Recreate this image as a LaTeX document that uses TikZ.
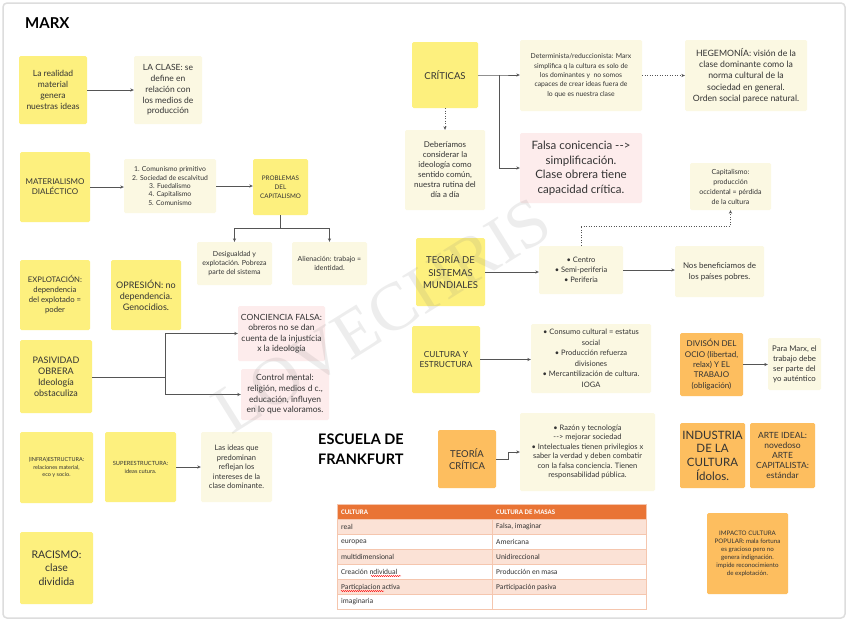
\documentclass[tikz,border=0pt]{standalone}
\usepackage{fontspec}
\setmainfont{Lato}
\newfontfamily\tabfont{Carlito}
\newfontfamily\wmfont{Liberation Serif}
\usetikzlibrary{arrows.meta,decorations.pathmorphing}
\definecolor{yel}{HTML}{FDF07E}
\definecolor{crm}{HTML}{FBF8E2}
\definecolor{pnk}{HTML}{FDECEC}
\definecolor{org}{HTML}{FDBE5F}
\definecolor{hdr}{HTML}{E97435}
\definecolor{pch}{HTML}{FBE2D6}
\definecolor{tbl}{HTML}{F5C6AE}
\definecolor{txt}{HTML}{333333}
\definecolor{lin}{HTML}{555555}
\definecolor{frm}{HTML}{DDDDDD}
\newcommand{\fz}[2]{\fontsize{#1}{#2}\selectfont}
\begin{document}
\begin{tikzpicture}[x=1pt,y=-1pt,
 card/.style={rounded corners=1.5pt, inner sep=0pt, align=center, text=txt},
 yb/.style={card, fill=yel}, cb/.style={card, fill=crm}, pb/.style={card, fill=pnk}, ob/.style={card, fill=org},
 arr/.style={draw=lin, line width=0.7pt, -{Stealth[length=3.5pt,width=3.2pt]}},
 dotarr/.style={arr, dash pattern=on 0.9pt off 1.6pt},
 cell/.style={anchor=west, font=\tabfont\fz{7.5}{9}, text=txt, inner sep=0pt},
 hcell/.style={anchor=west, font=\tabfont\bfseries\fz{7}{9}, text=white, inner sep=0pt},
 title/.style={font=\bfseries, text=black, align=left, inner sep=0pt}]

\useasboundingbox (0,0) rectangle (848,622);
\fill[white] (0,0) rectangle (848,622);
\draw[frm, line width=1.5pt, rounded corners=4pt] (3,3) rectangle (845,618);

% ---------- MARX ----------
\node[title, font=\bfseries\fz{15}{18}, anchor=west] (marx) at (25,23) {MARX};

\node[yb, minimum width=68, minimum height=68, font=\fz{8.5}{11}] (real) at (53,90) {La realidad\\material\\genera\\nuestras ideas};
\node[cb, minimum width=68, minimum height=68, font=\fz{8.5}{10.7}] (clase) at (168,90) {LA CLASE: se\\define en\\relación con\\los medios de\\producción};

\node[yb, minimum width=70, minimum height=70, font=\fz{8}{10}] (mat) at (55,187) {MATERIALISMO\\DIALÉCTICO};
\node[cb, minimum width=92, minimum height=54, font=\fz{6.8}{8.3}] (etapas) at (170,186) {1. Comunismo primitivo\\2. Sociedad de escalvitud\\3. Fuedalismo\\4. Capitalismo\\5. Comunismo};
\node[yb, minimum width=55, minimum height=56, font=\fz{6.3}{9}] (prob) at (280.5,187) {PROBLEMAS\\DEL\\CAPITALISMO};
\node[cb, minimum width=75, minimum height=43, font=\fz{7}{9}] (desig) at (234.5,263.5) {Desigualdad y\\explotación. Pobreza\\parte del sistema};
\node[cb, minimum width=75, minimum height=43, font=\fz{7}{8.7}] (alien) at (329.5,263.5) {Alienación: trabajo =\\identidad.};

\node[yb, minimum width=70, minimum height=70, font=\fz{7.7}{10}] (explot) at (55,295) {EXPLOTACIÓN:\\dependencia\\del explotado =\\poder};
\node[yb, minimum width=70, minimum height=70, font=\fz{9}{11}] (opres) at (146,295) {OPRESIÓN: no\\dependencia.\\Genocidios.};
\node[yb, minimum width=72, minimum height=73, font=\fz{9}{11}] (pasiv) at (56,376.5) {PASIVIDAD\\OBRERA\\Ideología\\obstaculiza};
\node[pb, minimum width=87, minimum height=55, font=\fz{8.5}{10.5}] (concf) at (281.5,333.5) {CONCIENCIA FALSA:\\obreros no se dan\\cuenta de la injustícia\\x la ideología};
\node[pb, minimum width=88, minimum height=51, font=\fz{8.5}{10.7}] (control) at (285,394.5) {Control mental:\\religión, medios d c.,\\educación, influyen\\en lo que valoramos.};

\node[yb, minimum width=73, minimum height=71, font=\fz{5.5}{7.5}] (infra) at (56.5,467.5) {(INFRA)ESTRUCTURA:\\relaciones material,\\eco y socio.};
\node[yb, minimum width=71, minimum height=70, font=\fz{5.7}{8}] (super) at (140.5,467) {SUPERESTRUCTURA:\\ideas cutura.};
\node[cb, minimum width=71, minimum height=70, font=\fz{7.5}{9.5}] (ideas) at (236.5,467) {Las ideas que\\predominan\\reflejan los\\intereses de la\\clase dominante.};
\node[yb, minimum width=73, minimum height=72, font=\fz{10.5}{13.7}] (racismo) at (56.5,568) {RACISMO:\\clase\\dividida};

% ---------- right part ----------
\node[yb, minimum width=66, minimum height=66, font=\fz{9.5}{12}] (crit) at (445,75) {CRÍTICAS};
\node[cb, minimum width=122, minimum height=71, font=\fz{6.8}{9.3}] (determ) at (581,75.5) {Determinista/reduccionista: Marx\\simplifica q la cultura es solo de\\los dominantes y\ \ no somos\\capaces de crear ideas fuera de\\lo que es nuestra clase};
\node[cb, minimum width=122, minimum height=71, font=\fz{8.7}{11.3}] (hegem) at (746,75.5) {HEGEMONÍA: visión de la\\clase dominante como la\\norma cultural de la\\sociedad en general.\\Orden social parece natural.};
\node[cb, minimum width=80, minimum height=80, font=\fz{8}{10}] (deber) at (445,170) {Deberíamos\\considerar la\\ideología como\\sentido común,\\nuestra rutina del\\día a día};
\node[pb, minimum width=122, minimum height=70, font=\fz{11.5}{14.5}] (falsa) at (581,168) {Falsa conicencia -{}->\\simplificación.\\Clase obrera tiene\\capacidad crítica.};
\node[cb, minimum width=81, minimum height=47, font=\fz{7}{10}] (capit) at (730.5,186.5) {Capitalismo:\\producción\\occidental = pérdida\\de la cultura};

\node[yb, minimum width=69, minimum height=68, font=\fz{9.5}{12.5}] (tsm) at (450.5,272) {TEORÍA DE\\SISTEMAS\\MUNDIALES};
\node[cb, minimum width=84, minimum height=48, font=\fz{7.5}{10}] (centro) at (581,270) {• Centro\\• Semi-periferia\\• Periferia};
\node[cb, minimum width=89, minimum height=51, font=\fz{8}{11}] (nos) at (719.5,271.5) {Nos beneficiamos de\\los países pobres.};

\node[yb, minimum width=68, minimum height=67, font=\fz{8.3}{10.7}] (cye) at (446,359.5) {CULTURA Y\\ESTRUCTURA};
\node[cb, minimum width=120, minimum height=69, font=\fz{7.5}{10.5}] (consumo) at (591,358.5) {• Consumo cultural = estatus\\social\\• Producción refuerza\\divisiones\\• Mercantilización de cultura.\\IOGA};
\node[ob, minimum width=63, minimum height=63, font=\fz{8}{10.3}] (ocio) at (711.5,364.5) {DIVISÓN DEL\\OCIO (libertad,\\relax) Y EL\\TRABAJO\\(obligación)};
\node[cb, minimum width=53, minimum height=52, font=\fz{7.8}{10}] (paramarx) at (794.5,364) {Para Marx, el\\trabajo debe\\ser parte del\\yo auténtico};

\node[title, font=\bfseries\fz{14.5}{20}, anchor=west] (escuela) at (318,449) {ESCUELA DE\\FRANKFURT};
\node[ob, minimum width=58, minimum height=58, font=\fz{9.5}{12}] (tcrit) at (467,459) {TEORÍA\\CRÍTICA};
\node[cb, minimum width=135, minimum height=78, font=\fz{7.5}{9.5}] (razon) at (587.5,452) {• Razón y tecnología\\-{}-> mejorar sociedad\\• Intelectuales tienen privilegios x\\saber la verdad y deben combatir\\con la falsa conciencia. Tienen\\responsabilidad pública.};

\node[ob, minimum width=65, minimum height=65, font=\fz{11.5}{13.7}] (indus) at (712.5,455.5) {INDUSTRIA\\DE LA\\CULTURA\\Ídolos.};
\node[ob, minimum width=65, minimum height=65, font=\fz{8.5}{10}] (arte) at (782.5,455.5) {ARTE IDEAL:\\novedoso\\ARTE\\CAPITALISTA:\\estándar};
\node[ob, minimum width=81, minimum height=81, font=\fz{6.2}{8}] (impacto) at (747.5,553.5) {IMPACTO CULTURA\\POPULAR: mala fortuna\\es gracioso pero no\\genera indignación.\\impide reconocimiento\\de explotación.};

% ---------- table ----------
\fill[hdr] (337,504) rectangle (646,519);
\fill[pch] (337,519) rectangle (646,534);
\fill[pch] (337,549) rectangle (646,564);
\fill[pch] (337,579) rectangle (646,594);
\draw[tbl, line width=0.6pt] (337,519) -- (646,519) (337,534) -- (646,534) (337,549) -- (646,549)
  (337,564) -- (646,564) (337,579) -- (646,579) (337,594) -- (646,594);
\draw[tbl, line width=0.8pt] (337,504) rectangle (646,609);
\draw[tbl, line width=0.6pt] (492,519) -- (492,609);
\node[hcell] (h1) at (341,512) {CULTURA};
\node[hcell] (h2) at (496,512) {CULTURA DE MASAS};
\node[cell] (a1) at (341,527) {real};
\node[cell] (b1) at (496,527) {Falsa, imaginar};
\node[cell] (a2) at (341,542) {europea};
\node[cell] (b2) at (496,542) {Americana};
\node[cell] (a3) at (341,557) {multidimensional};
\node[cell] (b3) at (496,557) {Unidireccional};
\node[cell] (a4) at (341,572) {Creación ndividual};
\node[cell] (b4) at (496,572) {Producción en masa};
\node[cell] (a5) at (341,587) {Particpiacion activa};
\node[cell] (b5) at (496,587) {Participación pasiva};
\node[cell] (a6) at (341,602) {imaginaria};
\draw[red, line width=0.4pt, decorate, decoration={snake, amplitude=0.6pt, segment length=2pt}] (371,576) -- (401,576);
\draw[red, line width=0.4pt, decorate, decoration={snake, amplitude=0.6pt, segment length=2pt}] (341,591) -- (384,591);

% ---------- connectors ----------
\draw[arr] (real) -- (clase);
\draw[arr] (mat.east) -- (mat.east -| etapas.west);
\draw[arr] (etapas.east) -- (etapas.east -| prob.west);
\coordinate (pb) at (280.5,228);
\draw[arr] (prob.south) -- (pb) -| (desig.north);
\draw[arr] (pb) -| (alien.north);
\coordinate (pj) at (165,377);
\draw[arr] (pasiv.east |- pj) -- (pj) |- (concf.west);
\draw[arr] (pj) |- (control.west);
\draw[arr] (super.east) -- (super.east -| ideas.west);

\coordinate (cj) at (499,75);
\draw[arr] (crit.east) -- (cj) -- (cj -| determ.west);
\draw[arr] (cj) |- (falsa.west);
\draw[dotarr] (determ.east) -- (determ.east -| hegem.west);
\draw[dotarr] (crit.south) -- (deber.north);
\draw[arr] (tsm.east) -- (tsm.east -| centro.west);
\draw[arr] (centro.east) -- (centro.east -| nos.west);
\coordinate (cu) at (581,226);
\draw[dotarr] (centro.north) -- (cu) -| (capit.south);
\draw[arr] (cye.east) -- (cye.east -| consumo.west);
\draw[arr] (ocio.east) -- (ocio.east -| paramarx.west);
\draw[arr] (tcrit.east) -- ++(12,0) |- (razon.west);

% ---------- watermark (over the cards, faint) ----------
\node[rotate=32, font=\wmfont\fz{68}{68}, text=gray, opacity=0.14] (wm) at (382,316) {LOVECHRIS};
\end{tikzpicture}
\end{document}
